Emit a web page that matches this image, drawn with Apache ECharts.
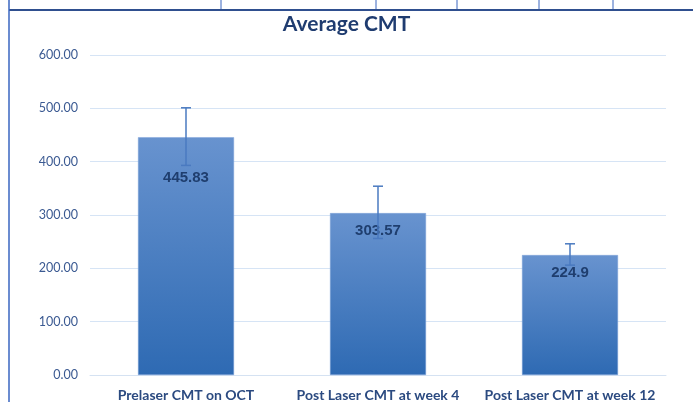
<!DOCTYPE html>
<html>
<head>
<meta charset="utf-8">
<script src="https://cdn.jsdelivr.net/npm/echarts@6/dist/echarts.min.js"></script>
<style>
html, body { margin: 0; padding: 0; background: #fff; }
#chart { width: 693px; height: 402px; }
</style>
</head>
<body>
<div id="chart"></div>
<script>
// values
const categories = ['Prelaser CMT on OCT', 'Post Laser CMT at week 4', 'Post Laser CMT at week 12'];
const meanCMT = [445.83, 303.57, 224.9];
const errHigh = [501, 354, 246];   // top of error bar
const errLow = [393, 256, 206];    // bottom of error bar
const yMin = 0, yMax = 600, yStep = 100;

// label offset inside the bar (first one sits lower in the original)
const labelDist = [33, 10, 10];

const chart = echarts.init(document.getElementById('chart'));

const barData = meanCMT.map(function (v, i) {
    return { value: v, label: { distance: labelDist[i] } };
});
const errData = meanCMT.map(function (v, i) {
    return [i, errHigh[i], errLow[i]];
});

const option = {
    animation: false,
    textStyle: { fontFamily: 'Lato' },
    title: {
        text: 'Average CMT',
        left: 'center',
        top: 9,
        textStyle: { fontFamily: 'Lato', fontWeight: 'bold', fontSize: 21, color: '#1f3c70' }
    },
    graphic: [
        // table border bits around the chart
        { type: 'line', shape: { x1: 9, y1: 10, x2: 693, y2: 10 }, style: { stroke: '#2f4f8f', lineWidth: 2 } },
        { type: 'line', shape: { x1: 9, y1: 0, x2: 9, y2: 402 }, style: { stroke: '#3a66c0', lineWidth: 1.5 } },
        { type: 'line', shape: { x1: 221, y1: 0, x2: 221, y2: 9 }, style: { stroke: '#3a66c0', lineWidth: 1 } },
        { type: 'line', shape: { x1: 376, y1: 0, x2: 376, y2: 9 }, style: { stroke: '#3a66c0', lineWidth: 1 } },
        { type: 'line', shape: { x1: 457, y1: 0, x2: 457, y2: 9 }, style: { stroke: '#3a66c0', lineWidth: 1 } },
        { type: 'line', shape: { x1: 539, y1: 0, x2: 539, y2: 9 }, style: { stroke: '#3a66c0', lineWidth: 1 } },
        { type: 'line', shape: { x1: 613, y1: 0, x2: 613, y2: 9 }, style: { stroke: '#3a66c0', lineWidth: 1 } }
    ],
    grid: { left: 90, right: 27, top: 55, bottom: 27, containLabel: false },
    xAxis: {
        type: 'category',
        data: categories,
        axisTick: { show: false },
        axisLine: { lineStyle: { color: '#d5e2f2' } },
        axisLabel: { margin: 13, fontWeight: 'bold', fontSize: 14, color: '#2b4a80', interval: 0 }
    },
    yAxis: {
        type: 'value',
        min: yMin,
        max: yMax,
        interval: yStep,
        axisLine: { show: false },
        axisTick: { show: false },
        splitLine: { lineStyle: { color: '#d6e4f5' } },
        axisLabel: {
            margin: 12,
            fontSize: 12.5,
            color: '#3b5a92',
            formatter: function (v) { return v.toFixed(2); }
        }
    },
    series: [
        {
            type: 'bar',
            barWidth: '50%',
            data: barData,
            itemStyle: {
                color: new echarts.graphic.LinearGradient(0, 0, 0, 1, [
                    { offset: 0, color: '#6893cf' },
                    { offset: 1, color: '#2e6ab3' }
                ]),
                borderColor: '#7fa3d8',
                borderWidth: 0.5
            },
            label: {
                show: true,
                position: 'insideTop',
                fontFamily: 'Liberation Sans',
                fontWeight: 'bold',
                fontSize: 15,
                color: '#1f3e6e'
            }
        },
        {
            type: 'custom',
            data: errData,
            z: 5,
            renderItem: function (params, api) {
                const x = api.value(0);
                const hi = api.coord([x, api.value(1)]);
                const lo = api.coord([x, api.value(2)]);
                const w = 5;
                const st = { stroke: '#4a7ac0', lineWidth: 1.5 };
                return {
                    type: 'group',
                    children: [
                        { type: 'line', shape: { x1: hi[0], y1: hi[1], x2: lo[0], y2: lo[1] }, style: st },
                        { type: 'line', shape: { x1: hi[0] - w, y1: hi[1], x2: hi[0] + w, y2: hi[1] }, style: st },
                        { type: 'line', shape: { x1: lo[0] - w, y1: lo[1], x2: lo[0] + w, y2: lo[1] }, style: st }
                    ]
                };
            }
        }
    ]
};

chart.setOption(option);
</script>
</body>
</html>
